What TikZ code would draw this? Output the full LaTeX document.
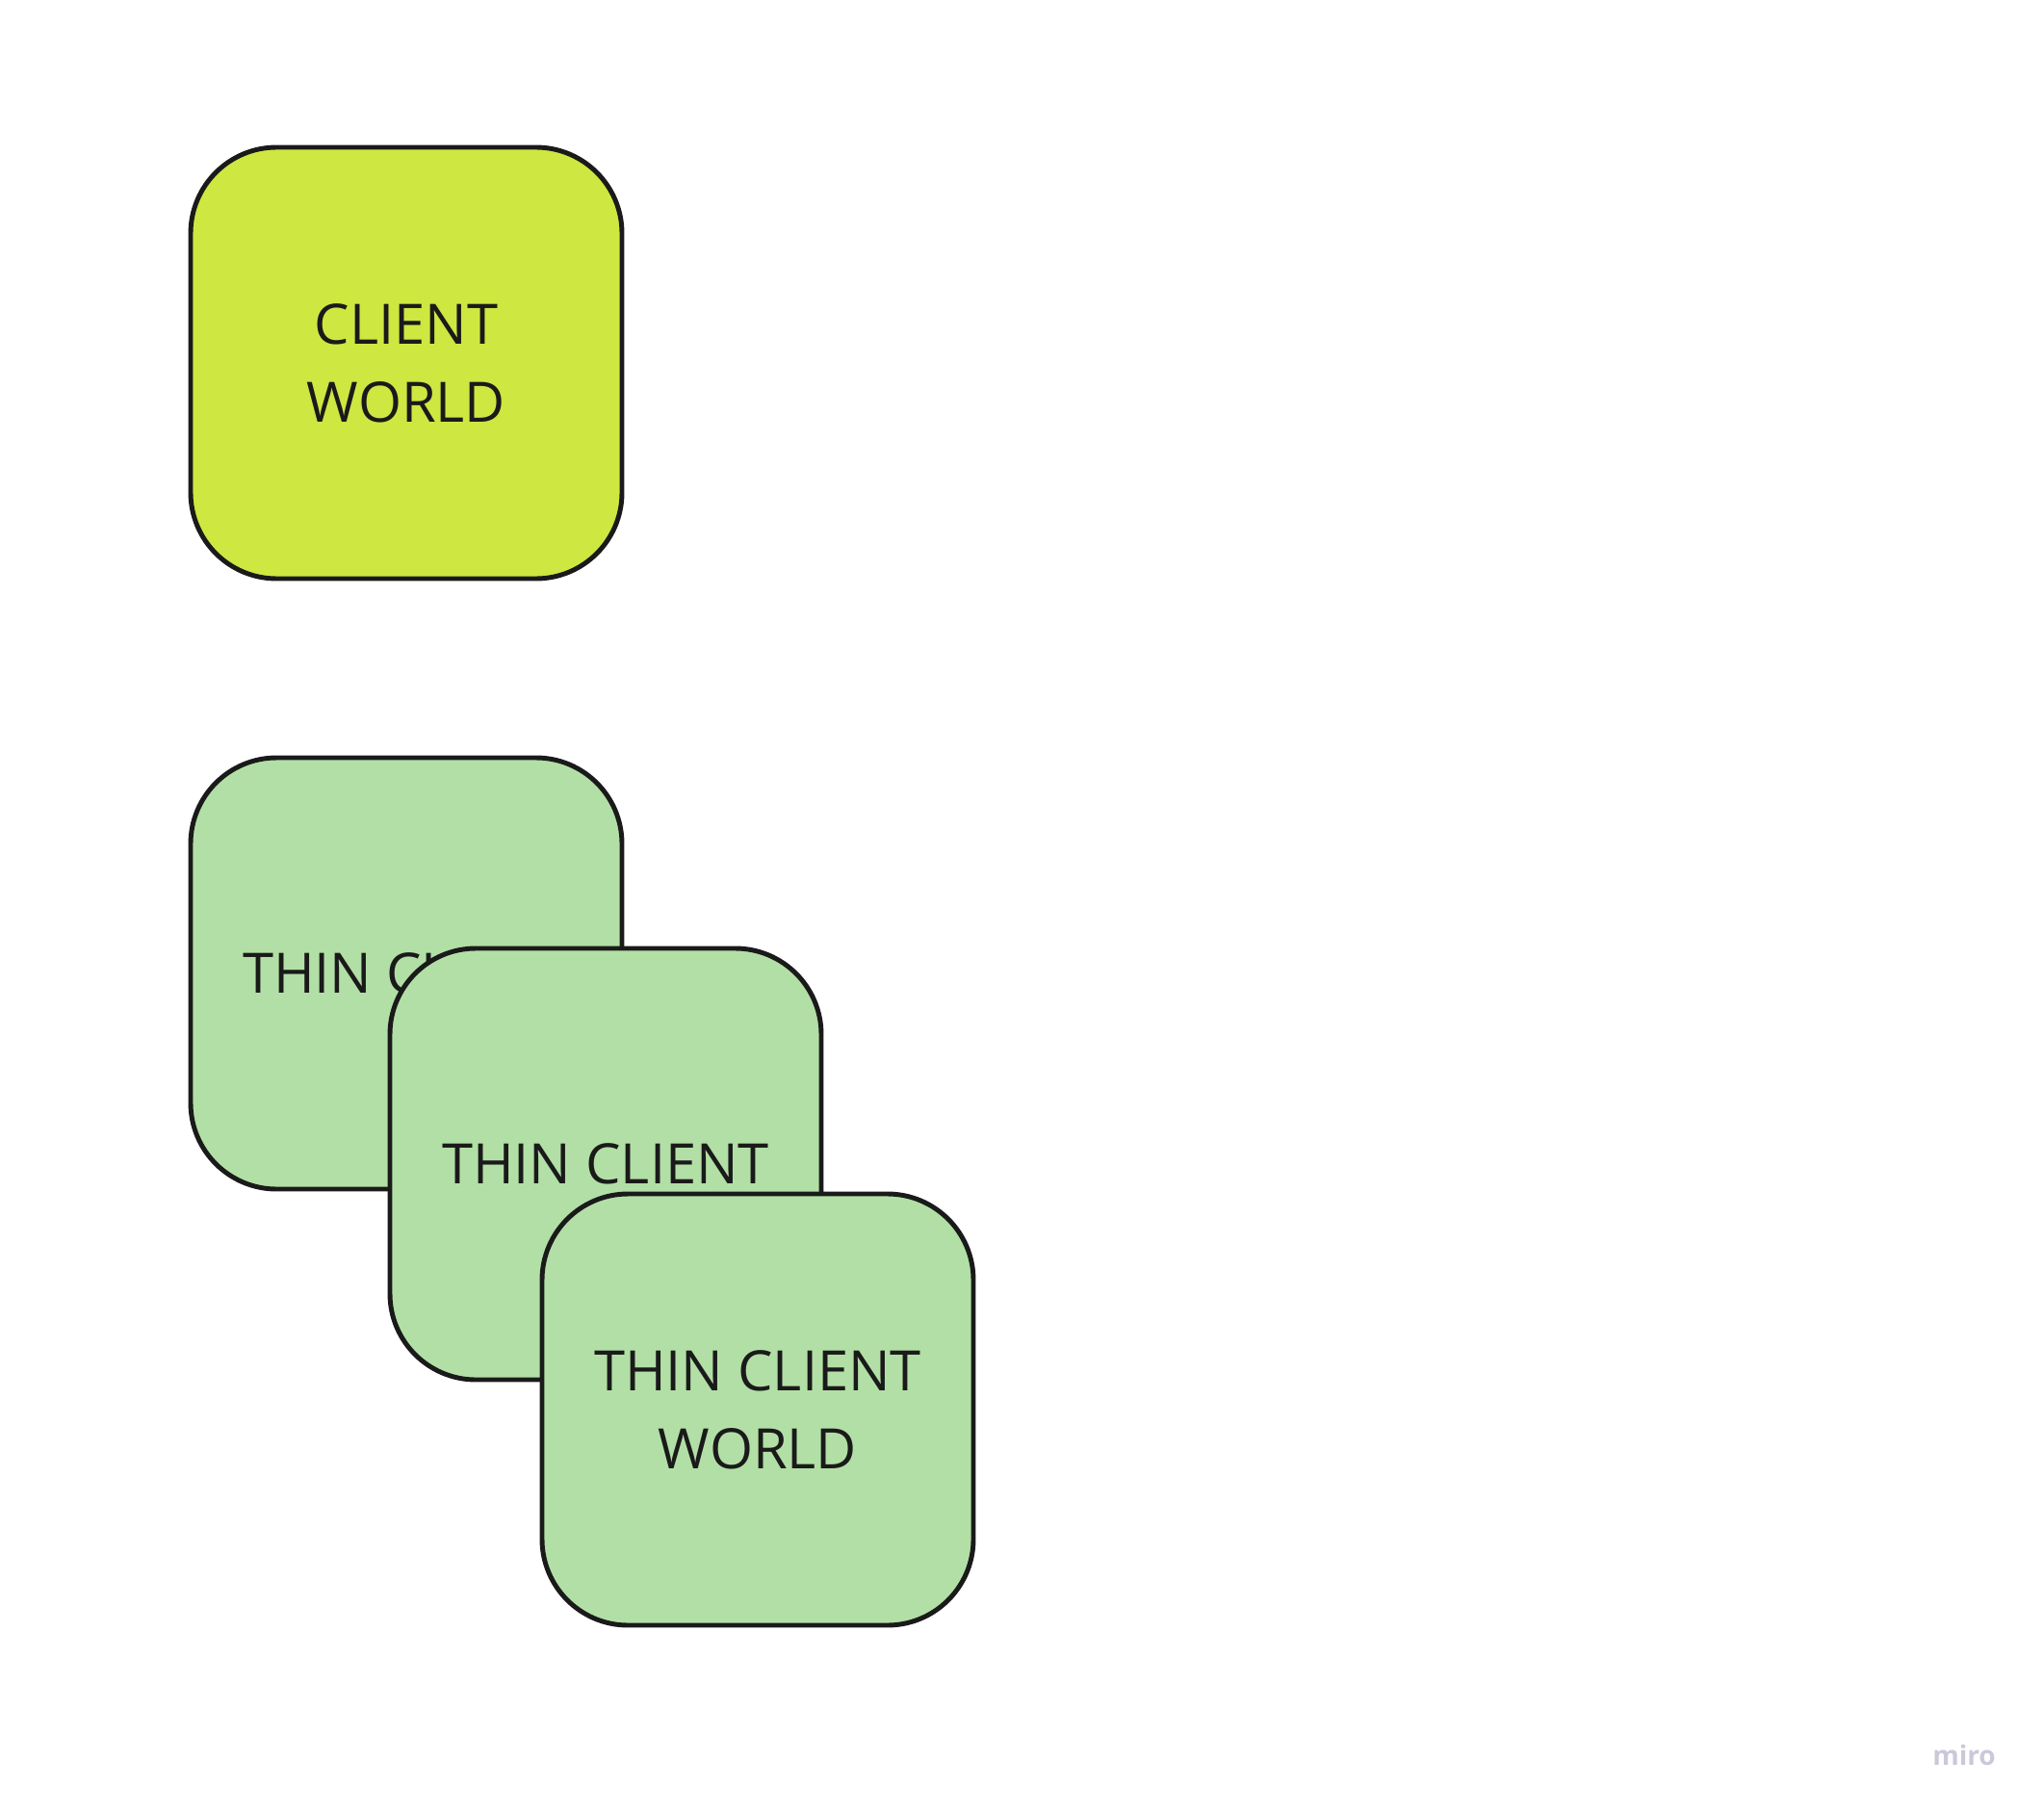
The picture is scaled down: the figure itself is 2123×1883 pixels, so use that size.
\documentclass[tikz,border=0pt]{standalone}
\usepackage{fontspec}
\setmainfont{Open Sans}
\definecolor{lime}{HTML}{CEE741}
\definecolor{lightgreen}{HTML}{B2DFA5}
\definecolor{ink}{HTML}{1A1A1A}
\definecolor{wm}{HTML}{C9C9DA}
\begin{document}
\begin{tikzpicture}[x=0.75pt,y=-0.75pt,
  card/.style={draw=ink, line width=3.7pt, rounded corners=67pt,
    minimum width=336pt, minimum height=336pt, inner sep=0pt,
    align=center, text=ink, font=\fontsize{43.4}{60.75}\selectfont},
  lime card/.style={card, fill=lime},
  thin card/.style={card, fill=lightgreen}]
\useasboundingbox (0,0) rectangle (2123,1883);
\node[lime card] (client) at (422,377) {CLIENT\\WORLD};
\node[thin card] (thinA) at (422,1011) {THIN CLIENT};
\node[thin card] (thinB) at (629,1209) {THIN CLIENT};
\node[thin card] (thinC) at (787,1464) {THIN CLIENT\\WORLD};
\node[text=wm, font=\bfseries\fontsize{21}{24}\selectfont, inner sep=0pt] (miro) at (2040,1823) {miro};
\end{tikzpicture}
\end{document}
